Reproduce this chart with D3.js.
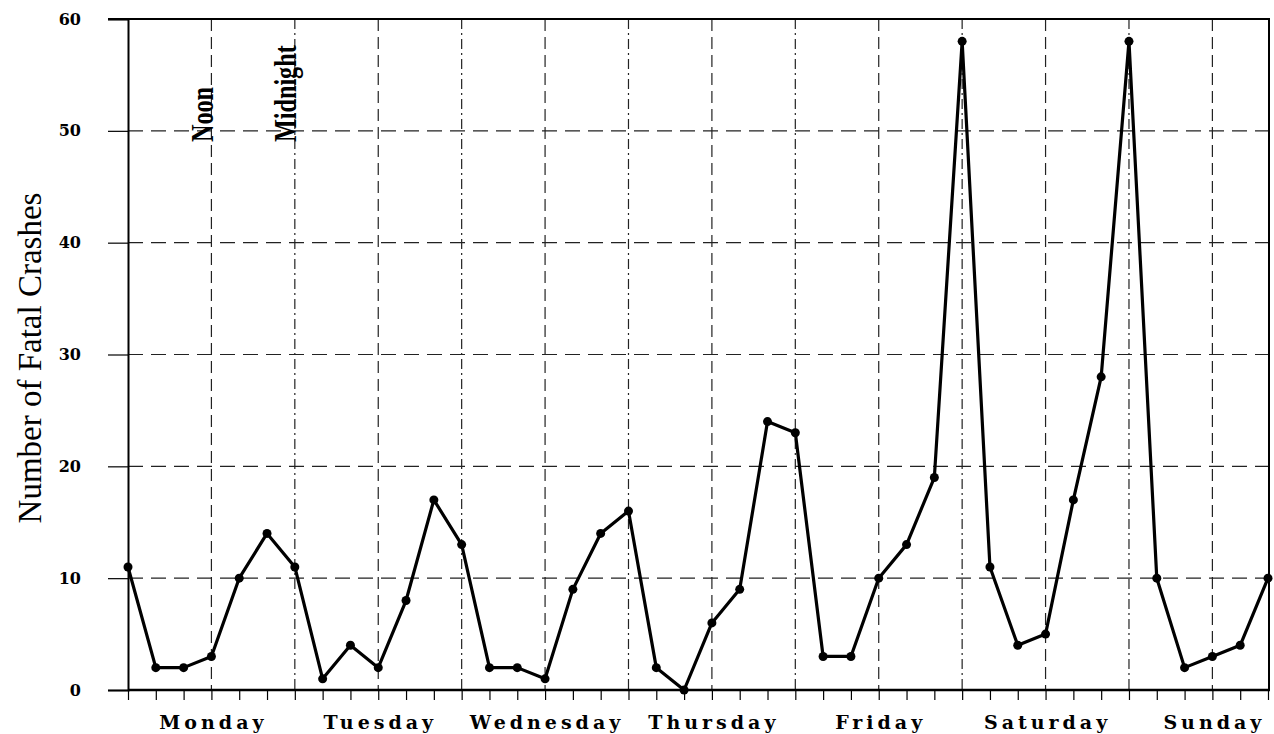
<!DOCTYPE html>
<html>
<head>
<meta charset="utf-8">
<script src="https://cdn.jsdelivr.net/npm/d3@7"></script>
<style>
  body { margin: 0; background: #fff; }
  svg { display: block; }
  .grid line { stroke: #222; stroke-width: 1.2; }
  .ytick text { font-family: "DejaVu Serif", serif; font-weight: bold; font-size: 16px; }
</style>
</head>
<body>
<svg id="chart" width="1274" height="734"></svg>
<script>
// fatal crashes, 4-hour bins, Monday through Sunday
const days = ['Monday', 'Tuesday', 'Wednesday', 'Thursday', 'Friday', 'Saturday', 'Sunday'];
const crashes = [
  11, 2, 2, 3, 10, 14,
  11, 1, 4, 2, 8, 17,
  13, 2, 2, 1, 9, 14,
  16, 2, 0, 6, 9, 24,
  23, 3, 3, 10, 13, 19,
  58, 11, 4, 5, 17, 28,
  58, 10, 2, 3, 4, 10
];
const yTicks = [0, 10, 20, 30, 40, 50, 60];
const markers = [{label: 'Noon', bin: 3}, {label: 'Midnight', bin: 6}];

let svg = d3.select('#chart');

// plot box (window.top is taken, so keep these in an object)
let box = {left: 128, right: 1268, top: 19, bottom: 690};

let x = d3.scaleLinear().domain([0, crashes.length - 1]).range([box.left, box.right]);
let y = d3.scaleLinear().domain([0, 60]).range([box.bottom, box.top]);

// horizontal dashed grid
svg.append('g').attr('class', 'grid')
  .selectAll('line')
  .data(yTicks.filter(function(d) { return d > 0 && d < 60; }))
  .enter().append('line')
  .attr('x1', box.left).attr('x2', box.right + 1)
  .attr('y1', function(d) { return y(d); })
  .attr('y2', function(d) { return y(d); })
  .attr('stroke-dasharray', '15,8');

// vertical grid every 12 hours (noon / midnight)
let vbins = d3.range(3, crashes.length - 1, 3);
svg.append('g').attr('class', 'grid')
  .selectAll('line')
  .data(vbins)
  .enter().append('line')
  .attr('x1', function(d) { return x(d); })
  .attr('x2', function(d) { return x(d); })
  .attr('y1', box.top).attr('y2', box.bottom)
  .attr('stroke-width', 1)
  .attr('stroke-dasharray', function(d) { return d % 6 === 0 ? '10,4,2,4' : '12,6'; });

// y axis
let yAxis = d3.axisLeft(y).tickValues(yTicks).tickSize(20).tickPadding(27);
let yg = svg.append('g')
  .attr('class', 'ytick')
  .attr('transform', 'translate(' + box.left + ',0)')
  .call(yAxis);
yg.select('.domain').attr('stroke-width', 2);
yg.selectAll('.tick line').attr('stroke-width', 1.2);

// bottom axis: a tick at every bin, no labels
let xAxis = d3.axisBottom(x).tickValues(d3.range(crashes.length)).tickSize(10).tickFormat('');
let xg = svg.append('g')
  .attr('transform', 'translate(0,' + box.bottom + ')')
  .call(xAxis);
xg.select('.domain').attr('stroke-width', 2.5).attr('d', 'M' + box.left + ',0H' + (box.right + 2));
xg.selectAll('.tick line').attr('stroke-width', 1.2);

// top and right frame
svg.append('path')
  .attr('d', 'M' + (box.left - 20) + ',' + box.top + 'H' + (box.right + 1) + 'V' + box.bottom)
  .attr('fill', 'none')
  .attr('stroke', '#000')
  .attr('stroke-width', 2);

// day labels centred on each day's noon
svg.append('g')
  .selectAll('text')
  .data(days)
  .enter().append('text')
  .attr('x', function(d, i) { return x(i * 6 + 3) + 2; })
  .attr('y', 729)
  .attr('text-anchor', 'middle')
  .attr('font-family', '"DejaVu Serif", serif')
  .attr('font-weight', 'bold')
  .attr('font-size', 19)
  .attr('letter-spacing', 4)
  .text(function(d) { return d; });

// Noon / Midnight markers
svg.append('g')
  .selectAll('text')
  .data(markers)
  .enter().append('text')
  .attr('transform', function(d) { return 'translate(' + (x(d.bin) + 1.5) + ',142) rotate(-90) scale(0.78,1)'; })
  .attr('font-family', '"Liberation Serif", serif')
  .attr('font-weight', 'bold')
  .attr('font-size', 31)
  .text(function(d) { return d.label; });

// y axis title
svg.append('text')
  .attr('transform', 'translate(41,358) rotate(-90)')
  .attr('text-anchor', 'middle')
  .attr('font-family', '"Liberation Serif", serif')
  .attr('font-size', 33)
  .text('Number of Fatal Crashes');

// the series
let line = d3.line()
  .x(function(d, i) { return x(i); })
  .y(function(d) { return y(d); });

svg.append('path')
  .datum(crashes)
  .attr('d', line)
  .attr('fill', 'none')
  .attr('stroke', '#000')
  .attr('stroke-width', 3.2)
  .attr('stroke-linejoin', 'round');

svg.append('g')
  .selectAll('circle')
  .data(crashes)
  .enter().append('circle')
  .attr('cx', function(d, i) { return x(i); })
  .attr('cy', function(d) { return y(d); })
  .attr('r', 4.5)
  .attr('fill', '#000');
</script>
</body>
</html>
